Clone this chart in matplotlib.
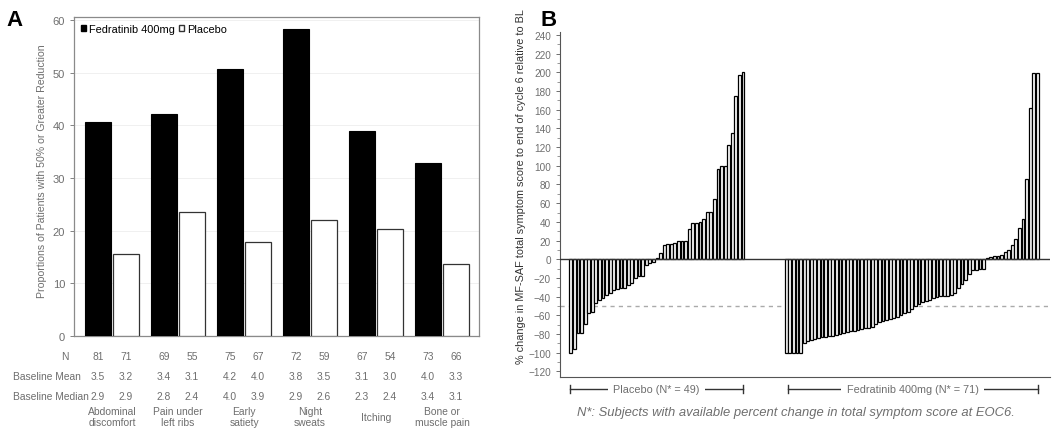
import numpy as np
import matplotlib.pyplot as plt
from matplotlib.patches import Patch
from matplotlib.transforms import blended_transform_factory

plt.rcParams["font.family"] = ["Liberation Sans", "DejaVu Sans"]

# ---- panel A data ----
symptoms = ["Abdominal\ndiscomfort", "Pain under\nleft ribs", "Early\nsatiety",
            "Night\nsweats", "Itching", "Bone or\nmuscle pain"]
fedr_pct = [40.7, 42.1, 50.7, 58.3, 38.9, 32.9]
plac_pct = [15.5, 23.6, 17.9, 22.0, 20.3, 13.6]
fedr_n = ["81", "69", "75", "72", "67", "73"]
plac_n = ["71", "55", "67", "59", "54", "66"]
fedr_mean = ["3.5", "3.4", "4.2", "3.8", "3.1", "4.0"]
plac_mean = ["3.2", "3.1", "4.0", "3.5", "3.0", "3.3"]
fedr_median = ["2.9", "2.8", "4.0", "2.9", "2.3", "3.4"]
plac_median = ["2.9", "2.4", "3.9", "2.6", "2.4", "3.1"]

# ---- panel B data (% change, sorted waterfall) ----
placebo_chg = [-100, -96, -79, -79, -69, -57, -56, -47, -44, -42, -38, -36,
               -33, -32, -31, -31, -28, -25, -20, -18, -18, -6, -4, -3,
               1, 7, 15, 16, 16, 17, 19, 20, 20, 32, 39, 39, 40, 43, 51, 51,
               64, 97, 100, 100, 122, 135, 175, 197, 200]
fedr_chg = [-100, -100, -100, -100, -100, -90, -88, -86, -85, -84, -83, -83,
            -82, -82, -81, -80, -79, -78, -77, -77, -76, -75, -74, -74, -72,
            -69, -67, -66, -65, -64, -63, -62, -60, -58, -56, -53, -50, -48,
            -46, -45, -44, -42, -40, -39, -39, -39, -38, -36, -31, -27, -22,
            -16, -12, -11, -10, -10,
            1, 2.5, 3.5, 4, 4.6, 7.4, 10, 15, 21.5, 33.5, 42.7, 86, 162, 199, 199]

gray = "#6e6e6e"
tfs = 7.4  # table font size
fig = plt.figure(figsize=(10.59, 4.31), dpi=100)

# ================= Panel A =================
axA = fig.add_axes([0.0699, 0.2181, 0.3824, 0.740])
x = np.arange(len(symptoms))
off, w = 0.212, 0.385
axA.bar(x - off, fedr_pct, w, color="black", edgecolor="black", linewidth=0.8, zorder=3)
axA.bar(x + off, plac_pct, w, color="white", edgecolor="#333333", linewidth=0.9, zorder=3)
axA.set_xlim(-0.576, 5.56)
axA.set_ylim(0, 60.6)
axA.set_yticks(range(0, 61, 10))
axA.set_xticks([])
axA.tick_params(axis="y", labelsize=8, colors=gray, length=3, width=0.6)
for s in axA.spines.values():
    s.set_color("#8a8a8a")
    s.set_linewidth(0.9)
axA.yaxis.grid(True, color="#eeeeee", linewidth=0.6, zorder=0)
axA.set_axisbelow(True)
axA.set_ylabel("Proportions of Patients with 50% or Greater Reduction",
               fontsize=7.6, color=gray)
axA.yaxis.set_label_coords(-0.066, 0.52)
handles = [Patch(facecolor="black", edgecolor="black"),
           Patch(facecolor="white", edgecolor="#333333")]
axA.legend(handles, ["Fedratinib 400mg", "Placebo"], loc="upper left", ncol=2,
           frameon=False, fontsize=7.9, handlelength=0.5, handleheight=0.5,
           handletextpad=0.3, columnspacing=0.3, borderaxespad=0.2,
           bbox_to_anchor=(0.0, 1.0))

tr = blended_transform_factory(axA.transData, fig.transFigure)
rows = [(0.1717, fedr_n, plac_n), (0.1253, fedr_mean, plac_mean),
        (0.0789, fedr_median, plac_median)]
for yy, fv, pv in rows:
    for i in range(len(symptoms)):
        axA.text(i - off, yy, fv[i], transform=tr, ha="center", va="center",
                 fontsize=tfs, color=gray)
        axA.text(i + off, yy, pv[i], transform=tr, ha="center", va="center",
                 fontsize=tfs, color=gray)
for i, lab in enumerate(symptoms):
    axA.text(i, 0.031, lab, transform=tr, ha="center", va="center",
             fontsize=tfs, color=gray, linespacing=1.1)
fig.text(65 / 1059, 0.1717, "N", ha="center", va="center", fontsize=tfs, color=gray)
fig.text(13 / 1059, 0.1253, "Baseline Mean", ha="left", va="center", fontsize=tfs, color=gray)
fig.text(13 / 1059, 0.0789, "Baseline Median", ha="left", va="center", fontsize=tfs, color=gray)

fig.text(6 / 1059, 1 - 20 / 431, "A", fontsize=16, fontweight="bold", va="center")
fig.text(540 / 1059, 1 - 20 / 431, "B", fontsize=16, fontweight="bold", va="center")

# ================= Panel B =================
axB = fig.add_axes([0.5288, 0.123, 0.4627, 0.800])
xp = np.arange(len(placebo_chg))
xf = np.arange(len(fedr_chg)) + 60
axB.bar(xp, placebo_chg, 0.78, color="white", edgecolor="black", linewidth=0.9, zorder=3)
axB.bar(xf, fedr_chg, 0.78, color="white", edgecolor="black", linewidth=0.9, zorder=3)
axB.axhline(0, color="#333333", linewidth=1.0, zorder=4)
axB.axhline(-50, color="#aaaaaa", linewidth=1.0, linestyle=(0, (3, 3)), zorder=2)
axB.set_xlim(-3, 133.5)
axB.set_ylim(-126, 243)
axB.set_yticks(range(-120, 241, 20))
axB.set_yticks(range(-120, 241, 10), minor=True)
axB.set_xticks([])
axB.tick_params(axis="y", which="major", labelsize=7.2, colors=gray, length=3, width=0.7)
axB.tick_params(axis="y", which="minor", length=2, width=0.5, colors=gray)
for side in ["top", "right"]:
    axB.spines[side].set_visible(False)
axB.spines["left"].set_color("#555555")
axB.spines["bottom"].set_color("#555555")
axB.set_ylabel("% change in MF-SAF total symptom score to end of cycle 6 relative to BL",
               fontsize=7.8, color="#333333")
axB.yaxis.set_label_coords(-0.069, 0.555)

trB = blended_transform_factory(axB.transData, axB.transAxes)
for x0, x1, lab in [(-0.3, 48.1, "Placebo (N* = 49)"),
                    (60.4, 130.1, "Fedratinib 400mg (N* = 71)")]:
    axB.plot([x0, x1], [-0.035, -0.035], color="#333333", linewidth=1.0,
             transform=trB, clip_on=False)
    for xe in (x0, x1):
        axB.plot([xe, xe], [-0.047, -0.023], color="#333333", linewidth=1.0,
                 transform=trB, clip_on=False)
    axB.text((x0 + x1) / 2, -0.035, lab, transform=trB, ha="center", va="center",
             fontsize=7.8, color=gray,
             bbox=dict(facecolor="white", edgecolor="none", pad=4))

fig.text(796 / 1059, 1 - 413 / 431,
         "N*: Subjects with available percent change in total symptom score at EOC6.",
         ha="center", va="center", fontsize=9.4, style="italic", color=gray)

fig.savefig("out.png", dpi=100)
